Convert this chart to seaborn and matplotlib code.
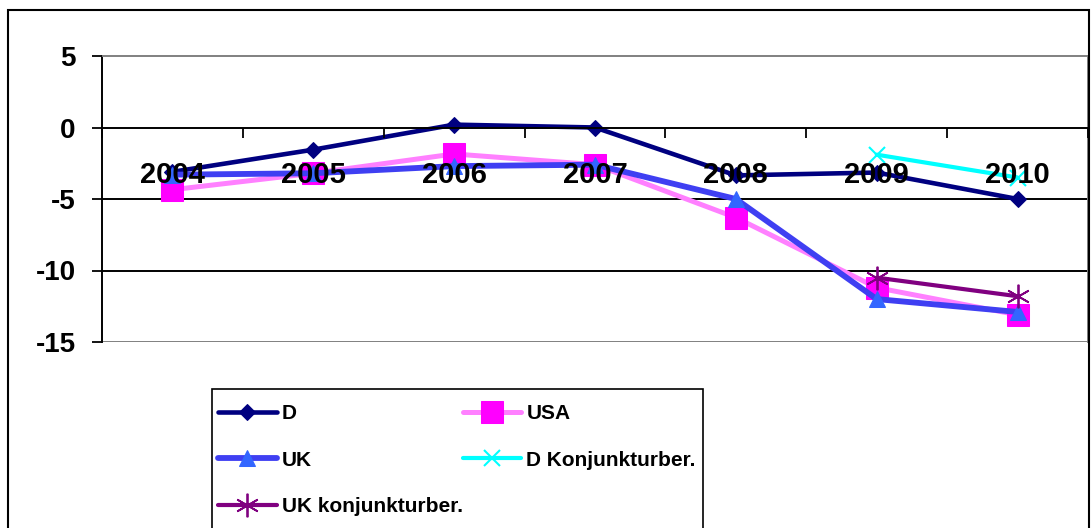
import numpy as np
import matplotlib
matplotlib.use("Agg")
import matplotlib.pyplot as plt
import seaborn as sns
from matplotlib.patches import Rectangle

years = ["2004", "2005", "2006", "2007", "2008", "2009", "2010"]
d_vals = [-3.1, -1.55, 0.2, 0.0, -3.35, -3.15, -5.0]
usa_vals = [-4.35, -3.2, -1.85, -2.6, -6.3, -11.2, -13.1]
uk_vals = [-3.3, -3.2, -2.7, -2.6, -5.0, -12.0, -12.9]
d_konj_years = ["2009", "2010"]
d_konj_vals = [-1.9, -3.5]
uk_konj_years = ["2009", "2010"]
uk_konj_vals = [-10.5, -11.8]
yticks = [5, 0, -5, -10, -15]

sns.set_theme(style="white")
plt.rcParams["font.family"] = ["Liberation Sans", "DejaVu Sans"]
plt.rcParams["font.weight"] = "bold"
plt.rcParams["text.color"] = "black"

fig = plt.figure(figsize=(10.92, 5.28), dpi=100)
ax = fig.add_axes([102 / 1092, 1 - 342 / 528, 986 / 1092, 286 / 528])

pos = {y: i for i, y in enumerate(years)}
x_main = [pos[y] for y in years]

series = [
    ("D", x_main, d_vals, dict(color="#000080", lw=3.3, marker="D", ms=8, mfc="#000080", mec="#000080")),
    ("USA", x_main, usa_vals, dict(color="#ff80ff", lw=3.6, marker="s", ms=16, mfc="#ff00ff", mec="#ff00ff")),
    ("UK", x_main, uk_vals, dict(color="#3f3ff2", lw=4.2, marker="^", ms=11, mfc="#3366ff", mec="#3366ff")),
    ("D Konjunkturber.", [pos[y] for y in d_konj_years], d_konj_vals,
     dict(color="#00ffff", lw=3.0, marker="x", ms=12, mfc="#00ffff", mec="#00ffff", mew=1.5)),
    ("UK konjunkturber.", [pos[y] for y in uk_konj_years], uk_konj_vals,
     dict(color="#800080", lw=3.0, marker=(6, 2, 0), ms=17, mfc="#800080", mec="#800080", mew=1.3)),
]

for name, xs, ys, st in series:
    sns.lineplot(x=xs, y=ys, ax=ax, sort=False, label=name, zorder=2, **st)

# grid lines and plot frame
for y in [-5, -10]:
    ax.axhline(y, color="black", lw=1.4, zorder=1)
ax.axhline(-15, color="#808080", lw=1.4, zorder=1)
ax.set_ylim(-15, 5)
ax.set_xlim(-0.5, 6.5)
ax.set_axisbelow(False)
ax.spines["bottom"].set_position(("data", 0))
for side, col in [("bottom", "black"), ("left", "black"), ("top", "#808080"), ("right", "#808080")]:
    ax.spines[side].set_color(col)
    ax.spines[side].set_linewidth(1.4)

ax.set_yticks(yticks)
ax.set_yticklabels([str(v) for v in yticks])
ax.tick_params(axis="y", left=True, direction="out", length=7, width=1.3,
               color="black", labelcolor="black", pad=12, labelsize=20)

ax.set_xticks(np.arange(-0.5, 7, 1))
ax.set_xticklabels([""] * 8)
ax.set_xticks(range(len(years)), minor=True)
ax.set_xticklabels(years, minor=True)
ax.tick_params(axis="x", which="major", bottom=True, direction="out", length=7,
               width=1.3, color="black")
ax.tick_params(axis="x", which="minor", bottom=True, length=0, pad=24,
               labelsize=21, labelcolor="black")
ax.set_xlabel("")
ax.set_ylabel("")

h, l = ax.get_legend_handles_labels()
ax.get_legend().remove()
order = [0, 2, 4, 1, 3]
leg = fig.legend([h[i] for i in order], [l[i] for i in order], loc="upper left",
                 bbox_to_anchor=(203 / 1092, 1 - 389 / 528), ncol=2, frameon=False,
                 borderaxespad=0, prop=dict(size=15, weight="bold"), labelcolor="black",
                 handlelength=2.8, handletextpad=0.25, columnspacing=0.0,
                 labelspacing=1.32, borderpad=0.73)

# legend box runs off the bottom edge
fig.patches.append(Rectangle((212 / 1092, -0.05), (703 - 212) / 1092, 0.05 + (528 - 389) / 528,
                             transform=fig.transFigure, fill=False,
                             edgecolor="black", lw=1.2))
# chart area border
fig.patches.append(Rectangle((8 / 1092, -0.05), (1089 - 8) / 1092, 1 - 10 / 528 + 0.05,
                             transform=fig.transFigure, fill=False,
                             edgecolor="black", lw=1.5))

fig.savefig("out.png", dpi=100)
